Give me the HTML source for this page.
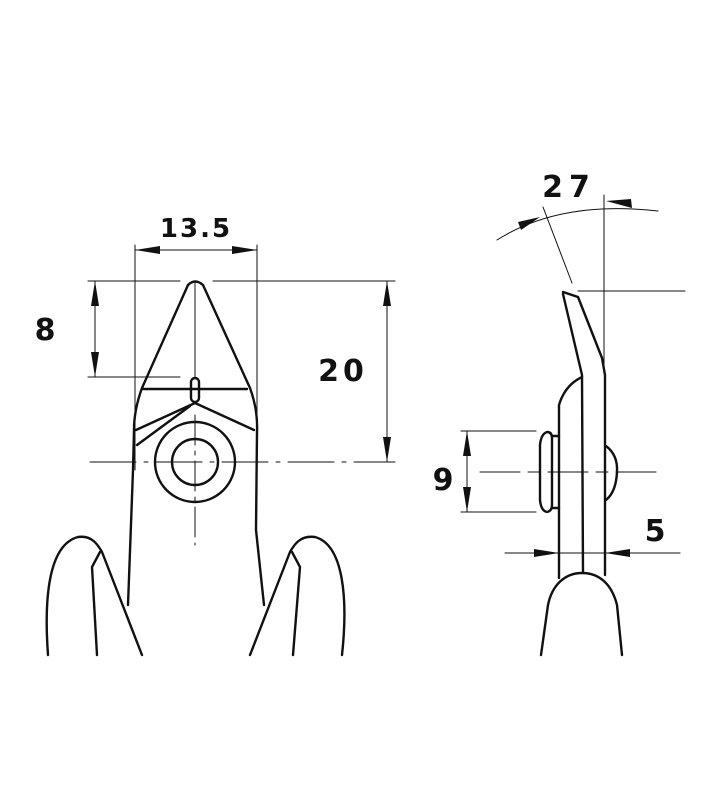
<!DOCTYPE html>
<html><head><meta charset="utf-8"><style>
html,body{margin:0;padding:0;background:#fff}
svg{display:block}
text{font-family:"DejaVu Sans","Liberation Sans",sans-serif;font-weight:bold;fill:#111}
</style></head><body>
<svg width="710" height="800" viewBox="0 0 710 800" xmlns="http://www.w3.org/2000/svg">
<g fill="none" stroke="#111" stroke-linejoin="round" stroke-linecap="round">
<g stroke-width="1">
<line x1="135" y1="245" x2="135" y2="470"/>
<line x1="257" y1="245" x2="257" y2="470"/>
<line x1="135" y1="250" x2="257" y2="250"/>
<line x1="88" y1="281" x2="180" y2="281"/>
<line x1="213" y1="281" x2="395" y2="281"/>
<line x1="88" y1="377" x2="180" y2="377"/>
<line x1="95" y1="281" x2="95" y2="377"/>
<line x1="387" y1="281" x2="387" y2="462"/>
<line x1="90" y1="462" x2="395" y2="462" stroke-dasharray="46,8,4,8"/>
<line x1="195" y1="415" x2="195" y2="545" stroke-dasharray="30,6,4,6"/>
<line x1="195" y1="283" x2="195" y2="378"/>
</g>
<g fill="#111" stroke="none">
<polygon points="135,250 160,246 160,254"/>
<polygon points="257,250 232,246 232,254"/>
<polygon points="95,281 91,306 99,306"/>
<polygon points="95,377 91,352 99,352"/>
<polygon points="387,281 383,306 391,306"/>
<polygon points="387,462 383,437 391,437"/>
</g>
<g stroke-width="2.4">
<path d="M188,285 Q195,278 203,285 L250,388 Q258,410 257,432 L256,530 L264,605"/>
<path d="M188,285 L142,388 Q134,410 134,430 L133,470 L128,605"/>
<line x1="143" y1="389" x2="247" y2="389"/>
<rect x="191" y="378" width="8" height="24" rx="4"/>
<path d="M136,430 L195,403 L254,430"/>
<path d="M190,406 L137,445"/>
<circle cx="195" cy="462" r="40"/>
<circle cx="195" cy="462" r="23"/>
<path d="M48,655 C44,600 48,545 78,537 C92,535 98,545 102,552 L142,655"/>
<path d="M100,552 L92,567 L97,655"/>
<path d="M342,655 C348,600 344,545 315,537 C300,535 294,545 290,552 L250,655"/>
<path d="M292,552 L300,567 L293,655"/>
</g>
<g stroke-width="1">
<line x1="604" y1="195" x2="604" y2="365"/>
<path d="M497,240 Q560,200 658,211"/>
<line x1="543" y1="207" x2="572" y2="283"/>
<line x1="578" y1="291" x2="685" y2="291"/>
<line x1="461" y1="431" x2="536" y2="431"/>
<line x1="461" y1="512" x2="536" y2="512"/>
<line x1="467" y1="431" x2="467" y2="512"/>
<line x1="480" y1="472" x2="660" y2="472" stroke-dasharray="40,8,12,8"/>
<line x1="505" y1="553" x2="680" y2="553"/>
</g>
<g fill="#111" stroke="none">
<polygon points="540,217 518,222 521,230"/>
<polygon points="606,201 631,199 632,208"/>
<polygon points="467,431 463,456 471,456"/>
<polygon points="467,512 463,487 471,487"/>
<polygon points="559,553 534,549 534,557"/>
<polygon points="605,553 630,549 630,557"/>
</g>
<g stroke-width="2.4">
<path d="M563,292 L578,297 L602,358 L605,375 L605,575"/>
<path d="M563,294 L582,375 L583,573"/>
<path d="M582,377 Q565,385 559,405 L559,578"/>
<path d="M547,432 Q541,434 540,445 L540,500 Q541,511 547,512 Q552,511 552,505 L552,438 Q552,432 547,432 Z"/>
<path d="M552,436 L559,436 M552,508 L559,508"/>
<path d="M606,446 Q618,455 617,472 Q616,492 606,500"/>
<path d="M541,655 L548,605 C552,585 565,573 582,573 C600,573 612,585 617,605 L622,655"/>
</g>
</g>
<text x="196" y="237" font-size="26" text-anchor="middle" letter-spacing="2">13.5</text>
<text x="45" y="340" font-size="30" text-anchor="middle">8</text>
<text x="343" y="381" font-size="30" text-anchor="middle" letter-spacing="4">20</text>
<text x="569" y="197" font-size="30" text-anchor="middle" letter-spacing="6">27</text>
<text x="443" y="490" font-size="30" text-anchor="middle">9</text>
<text x="655" y="541" font-size="30" text-anchor="middle">5</text>
</svg>
</body></html>
